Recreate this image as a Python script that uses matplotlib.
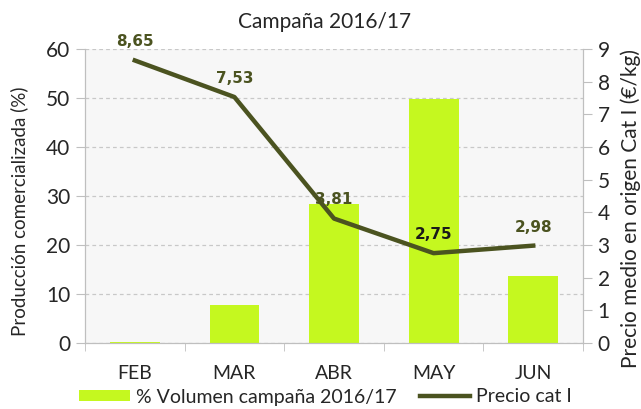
import matplotlib.pyplot as plt
import numpy as np

months = ["FEB", "MAR", "ABR", "MAY", "JUN"]
volumen = [0.3, 7.8, 28.4, 49.8, 13.7]
precio = [8.65, 7.53, 3.81, 2.75, 2.98]
precio_labels = ["8,65", "7,53", "3,81", "2,75", "2,98"]

plt.rcParams['font.family'] = ['Lato', 'DejaVu Sans']
plt.rcParams['text.color'] = "#262626"
plt.rcParams['xtick.color'] = "#262626"
plt.rcParams['ytick.color'] = "#262626"

bar_color = "#c5f81f"
line_color = "#4b5320"
spine_color = "#bfbfbf"

fig = plt.figure(figsize=(6.41, 4.09), dpi=100)
ax = fig.add_axes([85 / 641, 66 / 409, 498 / 641, 294 / 409])
ax.set_facecolor("#f7f7f7")

x = np.arange(len(months))
bars = ax.bar(x, volumen, width=0.5, color=bar_color, zorder=2)
ax.set_xlim(-0.5, len(months) - 0.5)
ax.set_ylim(0, 60)
ax.set_yticks(range(0, 61, 10))
ax.yaxis.grid(True, linestyle=(0, (3, 2.5)), color="#c8c8c8", linewidth=0.9, zorder=0)
ax.set_xticks(x)
ax.set_xticklabels(months, fontsize=14)
ax.set_xticks(np.arange(-0.5, len(months)), minor=True)
ax.tick_params(axis='x', which='major', length=0, pad=16)
ax.tick_params(axis='x', which='minor', length=6, color=spine_color)
ax.tick_params(axis='y', labelsize=15, length=6.5, pad=4, color=spine_color)
ax.spines["top"].set_visible(False)
for s in ["left", "bottom", "right"]:
    ax.spines[s].set_color(spine_color)

ax2 = ax.twinx()
line, = ax2.plot(x, precio, color=line_color, linewidth=3.2, zorder=3)
ax2.set_ylim(0, 9)
ax2.set_yticks(range(0, 10))
ax2.tick_params(axis='y', labelsize=15, length=6.5, pad=4, color=spine_color)
ax2.spines["top"].set_visible(False)
for s in ["left", "bottom", "right"]:
    ax2.spines[s].set_color(spine_color)

# etiquetas de precio sobre la linea
label_colors = [line_color, line_color, line_color, "#1a1a1a", line_color]
for xi, yi, lab, c in zip(x, precio, precio_labels, label_colors):
    ax2.annotate(lab, (xi, yi), xytext=(0, 8), textcoords="offset points",
                 ha="center", va="bottom", fontsize=11, fontweight="bold",
                 color=c, family="DejaVu Sans")

fig.text(324.5 / 641, 1 - 22 / 409, "Campaña 2016/17", fontsize=15,
         ha="center", va="center")
fig.text(19 / 641, 1 - 211 / 409, "Producción comercializada (%)", fontsize=13.5,
         rotation=90, ha="center", va="center")
fig.text(631 / 641, 1 - 208 / 409, "Precio medio en origen Cat I (€/kg)", fontsize=15,
         rotation=90, ha="center", va="center")

fig.legend([bars, line], ["% Volumen campaña 2016/17", "Precio cat I"],
           loc="center", bbox_to_anchor=(325.5 / 641, 12 / 409), ncol=2,
           frameon=False, fontsize=14, handlelength=2.6, handleheight=0.5,
           columnspacing=1.2, handletextpad=0.3, borderpad=0, borderaxespad=0)

fig.savefig("out.png", dpi=100)
